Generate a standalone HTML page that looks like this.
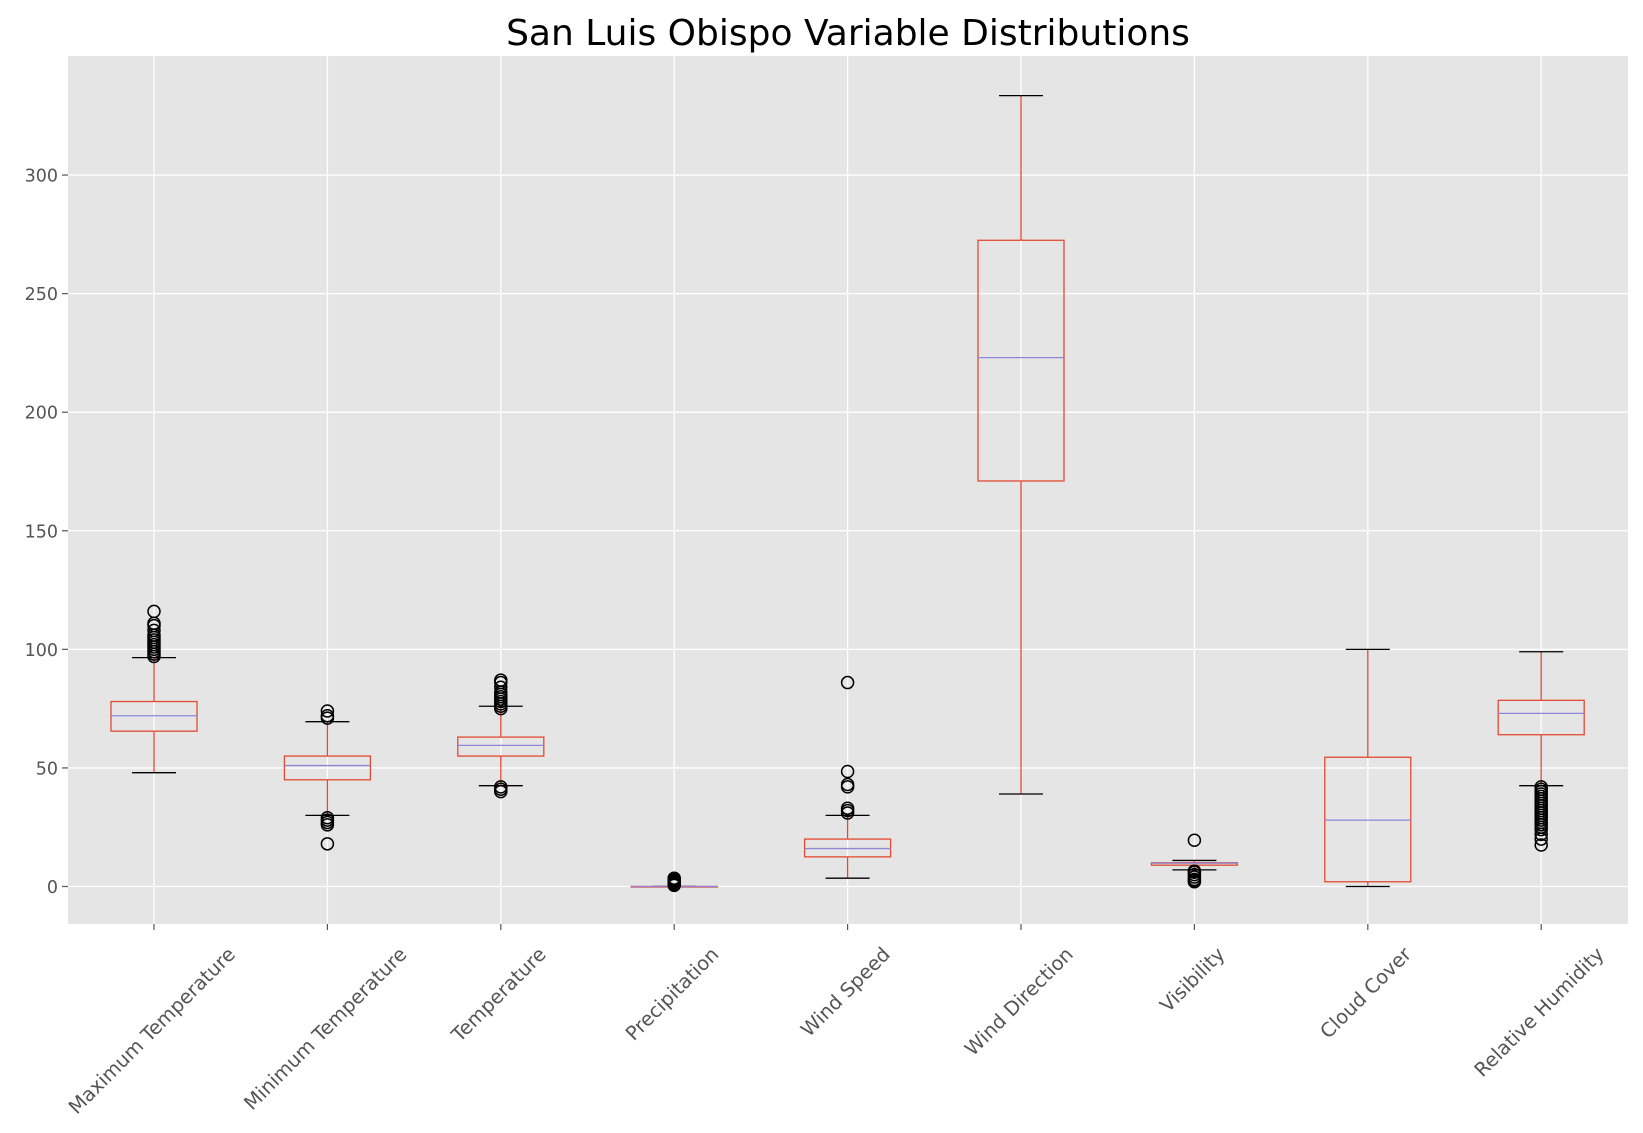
<!DOCTYPE html>
<html><head><meta charset="utf-8"><style>
html,body{margin:0;padding:0;background:#fff;overflow:hidden}
svg{display:block}
text{font-family:"DejaVu Sans","Liberation Sans",sans-serif}
</style></head><body>
<svg id="chart" width="1643" height="1133" viewBox="0 0 1643 1133" xmlns="http://www.w3.org/2000/svg">
<rect width="1643" height="1133" fill="#fff"/>
<rect x="68" y="56" width="1560" height="868" fill="#e5e5e5"/>
<text x="848" y="45" text-anchor="middle" font-size="36" fill="#000">San Luis Obispo Variable Distributions</text>
<g id="grid"></g><g id="marks"></g><g id="axes"></g>
</svg>
<script>
const categories=["Maximum Temperature","Minimum Temperature","Temperature","Precipitation","Wind Speed","Wind Direction","Visibility","Cloud Cover","Relative Humidity"];
const whiskerLow=[48,30,42.5,0,3.5,39,7,0,42.5];
const q1=[65.5,45,55,0,12.5,171,9,2,64];
const median=[72,51,59.5,0,16,223,9.8,28,73];
const q3=[78,55,63,0,20,272.5,10,54.5,78.5];
const whiskerHigh=[96.5,69.5,76,0,30,333.5,11,100,99];
const outliers=[
 [97,98,99,100,101,102,103,104,105,106,108,110,111,116],
 [71,72,74,29,28,27,26,18],
 [75,76,77,78,79,80,81,82,84,86,87,42,41,40],
 [0.5,1,1.5,2,2.5,3,3.5],
 [31,32,33,42,43,48.5,86],
 [],
 [2,2.5,3,4,5,6,6.5,19.5],
 [],
 [17.5,20,22,24,25,26,27,28,29,30,31,32,33,34,35,36,37,38,39,40,41,42]
];
const yTicks=[0,50,100,150,200,250,300];
const NS="http://www.w3.org/2000/svg";
const x0=68,x1=1628,yTop=56,yBot=924;
const yScale=v=>886.5-v*2.3715;
const xScale=i=>154+i*173.4;
const bw=86;
const xfs=19.5;
function mk(tag,attrs,parent){const e=document.createElementNS(NS,tag);for(const k in attrs)e.setAttribute(k,attrs[k]);document.getElementById(parent).appendChild(e);return e;}
yTicks.forEach(t=>{
 const y=yScale(t);
 const g=mk('line',{x1:x0,x2:x1,y1:y,y2:y,stroke:'#fff','stroke-width':1.3},'grid');
 
 
 const tk=mk('line',{x1:x0-6,x2:x0,y1:y,y2:y,stroke:'#555','stroke-width':1.2},'axes');
 
 
 const lb=mk('text',{x:x0-10,y:y+6.5,'text-anchor':'end','font-size':17.5,fill:'#555'},'axes');
 lb.textContent=t;
 
 
});
categories.forEach((c,i)=>{
 const x=xScale(i);
 const g=mk('line',{x1:x,x2:x,y1:yTop,y2:yBot,stroke:'#fff','stroke-width':1.3},'grid');
 
 
 const tk=mk('line',{x1:x,x2:x,y1:yBot,y2:yBot+6,stroke:'#555','stroke-width':1.2},'axes');
 
 
 const lb=mk('text',{x:x-2,y:yBot,'text-anchor':'middle','dominant-baseline':'central','font-size':xfs,fill:'#555'},'axes');
 lb.textContent=c;
 
 
 const L=lb.getComputedTextLength();
 const half=(L+xfs)/(2*Math.SQRT2);
 const cy=yBot+20+half;
 lb.setAttribute('y',cy);
 lb.setAttribute('transform',`rotate(-45 ${x-2} ${cy})`);
 const w1=mk('line',{x1:x,x2:x,y1:yScale(q1[i]),y2:yScale(whiskerLow[i]),stroke:'#e24a33','stroke-width':1.3},'marks');
 
 
 const w2=mk('line',{x1:x,x2:x,y1:yScale(q3[i]),y2:yScale(whiskerHigh[i]),stroke:'#e24a33','stroke-width':1.3},'marks');
 
 
 [whiskerLow[i],whiskerHigh[i]].forEach(v=>{
  const cap=mk('line',{x1:x-22,x2:x+22,y1:yScale(v),y2:yScale(v),stroke:'#000','stroke-width':1.3},'marks');
  
  
 });
 const b=mk('rect',{x:x-bw/2,y:yScale(q3[i]),width:bw,height:Math.max(0.5,yScale(q1[i])-yScale(q3[i])),fill:'none',stroke:'#e24a33','stroke-width':1.3},'marks');
 
 
 const m=mk('line',{x1:x-bw/2,x2:x+bw/2,y1:yScale(median[i]),y2:yScale(median[i]),stroke:'#8e86d6','stroke-width':1.3},'marks');
 
 
 outliers[i].forEach(v=>{
  const o=mk('circle',{cx:x,cy:yScale(v),r:6,fill:'none',stroke:'#000','stroke-width':1.5},'marks');
  
  
 });
});
</script>
</body></html>
